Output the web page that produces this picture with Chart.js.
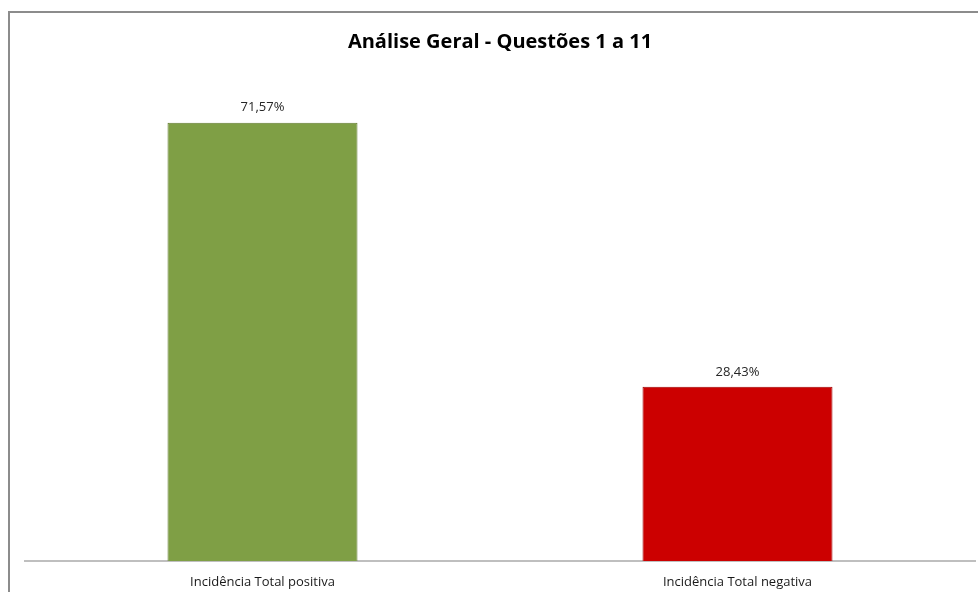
<!DOCTYPE html>
<html>
<head>
<meta charset="utf-8">
<script src="https://cdn.jsdelivr.net/npm/chart.js@4/dist/chart.umd.min.js"></script>
<style>
  html, body { margin: 0; padding: 0; background: #fff; overflow: hidden; }
  #wrap { position: relative; width: 978px; height: 592px; }
  #frame { position: absolute; left: 8px; top: 11px; width: 978px; height: 600px;
           border-left: 2px solid #8c8c8c; border-top: 2px solid #8c8c8c; pointer-events: none; }
</style>
</head>
<body>
<div id="wrap">
  <canvas id="grafico" width="978" height="592"></canvas>
  <div id="frame"></div>
</div>
<script>
// dados do grafico
var categorias = ['Incidência Total positiva', 'Incidência Total negativa'];
var valores = [71.57, 28.43];
var cores = ['#7f9f45', '#cc0000'];
var bordas = ['#62792f', '#a00000'];

// rotulo em cima de cada barra
var rotulos = {
    id: 'rotulos',
    afterDatasetsDraw: function(chart) {
        var ctx = chart.ctx;
        var meta = chart.getDatasetMeta(0);
        ctx.save();
        ctx.font = '13px "Open Sans", sans-serif';
        ctx.fillStyle = '#262626';
        ctx.textAlign = 'center';
        ctx.textBaseline = 'middle';
        meta.data.forEach(function(bar, i) {
            var txt = valores[i].toFixed(2).replace('.', ',') + '%';
            ctx.fillText(txt, bar.x, bar.y - 15);
        });
        ctx.restore();
    }
};

var grafico = new Chart(document.getElementById('grafico'), {
    type: 'bar',
    data: {
        labels: categorias,
        datasets: [{
            data: valores,
            backgroundColor: cores,
            borderColor: bordas,
            borderWidth: 1,
            borderSkipped: 'bottom',
            barPercentage: 0.4,
            categoryPercentage: 1
        }]
    },
    options: {
        responsive: false,
        animation: false,
        layout: { padding: { left: 25, right: 3, top: 0, bottom: 1 } },
        plugins: {
            legend: { display: false },
            tooltip: { enabled: false },
            title: {
                display: true,
                text: 'Análise Geral - Questões 1 a 11',
                color: '#000',
                font: { family: '"Open Sans", sans-serif', size: 20, weight: 'bold' },
                padding: { top: 30, bottom: 17 }
            }
        },
        scales: {
            x: {
                grid: { display: false, drawTicks: false },
                border: { display: true, color: '#bfbfbf', width: 2 },
                ticks: {
                    color: '#1a1a1a',
                    padding: 13,
                    font: { family: '"Open Sans", sans-serif', size: 13 }
                },
                afterFit: function(scale) { scale.height = 30; }
            },
            y: {
                display: false,
                min: 0,
                max: 80
            }
        }
    },
    plugins: [rotulos]
});
</script>
</body>
</html>
